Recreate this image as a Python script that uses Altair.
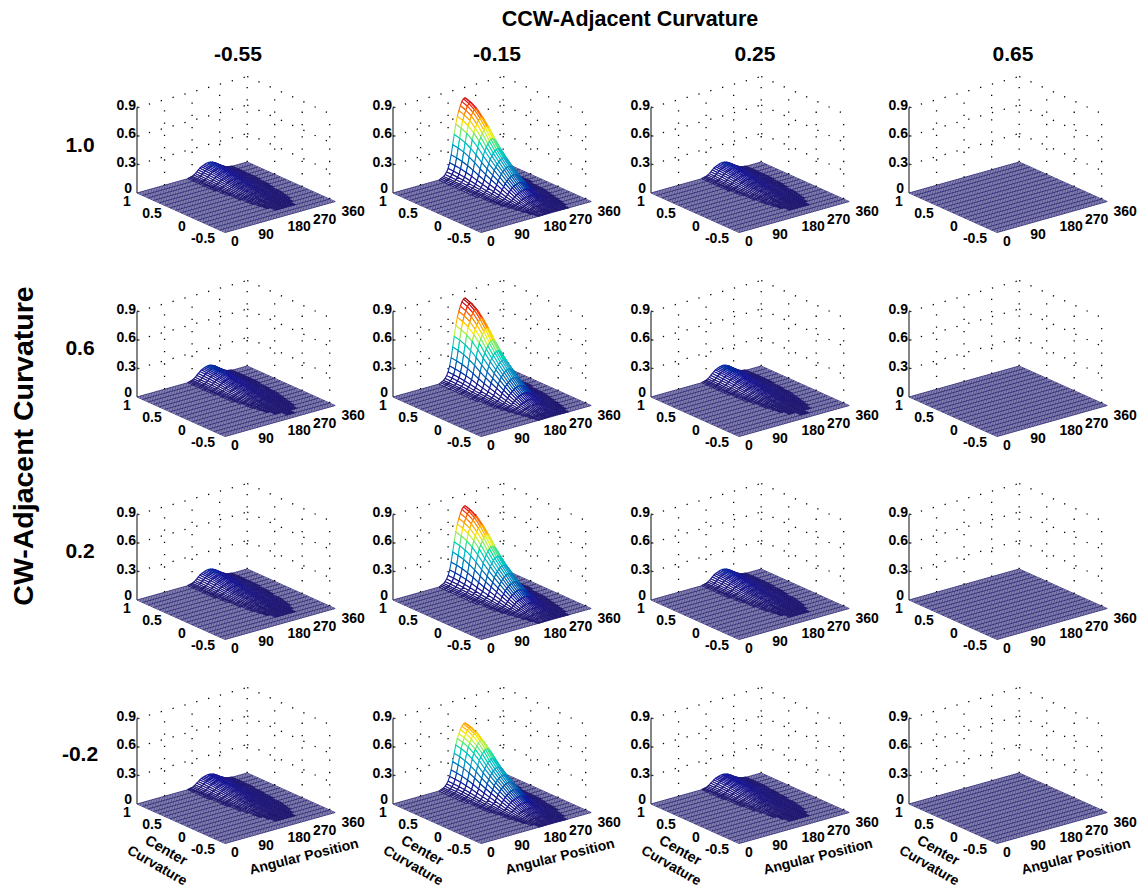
import altair as alt
import pandas as pd

alt.data_transformers.disable_max_rows()

# ---- values ----
ANGLES = [i * 5.0 for i in range(73)]
ANGLE_GAIN = [0]*31 + [.01, .02, .03, .05, .08, .12, .19, .29, .42, .55, .68, .78, .85, .91, .96, .99, 1.0,
                       .98, .94, .88, .80, .70, .59, .48, .38, .29, .21, .15, .10, .07, .05, .03, .02, .01, .01] + [0]*7
CENTER = [1.0, .9, .8, .7, .6, .5, .4, .3, .2, .1, 0, -.1, -.2, -.3, -.4, -.5, -.6]
CENTER_GAIN = [1.0, .97, .92, .84, .74, .62, .52, .43, .35, .27, .20, .14, .09, .06, .035, .02, .01]
CCW = ["-0.55", "-0.15", "0.25", "0.65"]
CW = ["1.0", "0.6", "0.2", "-0.2"]
PEAKS = [[.11, .79, .11, 0], [.12, .83, .12, 0], [.11, .78, .11, 0], [.10, .64, .10, 0]]
Z_TICKS = [0, .3, .6, .9]
AP_TICKS = [0, 90, 180, 270, 360]
CC_TICKS = [1, .5, 0, -.5]

# ---- layout / projection ----
ORIG_X = [137, 393, 651, 909]
ORIG_Y = [193, 397, 600, 804]
AP_VEC = (110.2, -31.0)
CC_VEC = (88.0, 39.5)
Z_SCALE = 85.5 / .9
AP_OFF = {0: (10, 9), 90: (13.5, 10), 180: (19, 9.5), 270: (17, 11), 360: (18, 10)}
CC_OFF = {1: (-10, 9), .5: (-12.5, 8.7), 0: (-10, 9.3), -.5: (-16.5, 9)}
Z_OFF = {0: (-5, -4), .3: (-1, -2), .6: (-1, -2), .9: (-1, -2)}


def proj(r, c, ap, cc, z=0.0):
    a, t = ap / 360, (1 - cc) / 1.6
    return (ORIG_X[c] + a * AP_VEC[0] + t * CC_VEC[0],
            ORIG_Y[r] + a * AP_VEC[1] + t * CC_VEC[1] - z * Z_SCALE)


ap_lines, cc_lines, dots, axis, cells, texts = [], [], [], [], [], []


def seg(store, p, q):
    store.append({"x": p[0], "y": p[1], "x2": q[0], "y2": q[1]})


cid = 0
for r in range(4):
    for c in range(4):
        pk = PEAKS[r][c]
        for ap in ANGLES:
            seg(ap_lines, proj(r, c, ap, 1), proj(r, c, ap, -.6))
        for cc in CENTER:
            seg(cc_lines, proj(r, c, 0, cc), proj(r, c, 360, cc))
        # dotted grid on the two back walls
        for z in Z_TICKS[1:]:
            seg(dots, proj(r, c, 0, 1, z), proj(r, c, 360, 1, z))
            seg(dots, proj(r, c, 360, 1, z), proj(r, c, 360, -.6, z))
        for ap in AP_TICKS[1:]:
            seg(dots, proj(r, c, ap, 1), proj(r, c, ap, 1, .9))
        for cc in CC_TICKS[1:]:
            seg(dots, proj(r, c, 360, cc), proj(r, c, 360, cc, .9))
        seg(axis, proj(r, c, 0, 1), proj(r, c, 0, 1, .9))
        for z in Z_TICKS[1:]:
            p = proj(r, c, 0, 1, z)
            seg(axis, p, (p[0] + 2.5, p[1]))
        # labels
        for z in Z_TICKS:
            p = proj(r, c, 0, 1, z)
            texts.append({"x": p[0] + Z_OFF[z][0], "y": p[1] + Z_OFF[z][1], "t": str(z), "a": "right"})
        for ap in AP_TICKS:
            p = proj(r, c, ap, -.6)
            texts.append({"x": p[0] + AP_OFF[ap][0], "y": p[1] + AP_OFF[ap][1], "t": str(ap), "a": "center"})
        for cc in CC_TICKS:
            p = proj(r, c, 0, cc)
            texts.append({"x": p[0] + CC_OFF[cc][0], "y": p[1] + CC_OFF[cc][1], "t": str(cc), "a": "center"})
        # raised part of the surface, back to front
        if pk == 0:
            continue
        for j in range(len(CENTER) - 1):
            for i in range(len(ANGLES) - 2, -1, -1):
                corners = [(i, j), (i + 1, j), (i + 1, j + 1), (i, j + 1), (i, j)]
                zs = [pk * ANGLE_GAIN[a] * CENTER_GAIN[b] for a, b in corners]
                if max(zs) < .004:
                    continue
                zc = sum(zs[:4]) / 4
                for k, ((a, b), z) in enumerate(zip(corners, zs)):
                    x, y = proj(r, c, ANGLES[a], CENTER[b], z)
                    cells.append({"x": x, "y": y, "cell": cid, "k": k, "zc": zc})
                cid += 1

X = alt.X("x:Q", scale=alt.Scale(domain=[8, 1138]), axis=None)
Y = alt.Y("y:Q", scale=alt.Scale(domain=[887, 8]), axis=None)
FONT = "Liberation Sans"


def rule_layer(rows, **kw):
    return alt.Chart(pd.DataFrame(rows)).mark_rule(**kw).encode(X, Y, x2="x2:Q", y2="y2:Q")


floor_a = rule_layer(ap_lines, color="#2a2474", strokeWidth=.8)
floor_c = rule_layer(cc_lines, color="#2a2474", strokeWidth=.8)
grid = rule_layer(dots, color="black", strokeWidth=1.3, strokeDash=[1.3, 11])
zaxis = rule_layer(axis, color="#333333", strokeWidth=1.2)
mesh = alt.Chart(pd.DataFrame(cells)).mark_line(fill="white", strokeWidth=1.1).encode(
    X, Y,
    order="k:Q",
    detail="cell:N",
    color=alt.Color("zc:Q", legend=None, scale=alt.Scale(
        domain=[0, .095, .2, .32, .53, .74, .85],
        range=["#20186e", "#15159a", "#1a68b0", "#28b0c8", "#f4f020", "#f01010", "#7f1010"])),
)


def label(rows, size, angle=0, align="center"):
    return alt.Chart(pd.DataFrame(rows)).mark_text(
        font=FONT, fontWeight="bold", fontSize=size, baseline="middle", align=align, angle=angle
    ).encode(X, Y, text="t:N")


tick_c = label([t for t in texts if t["a"] == "center"], 14)
tick_r = label([t for t in texts if t["a"] == "right"], 14, align="right")

col_x = [238, 497, 755, 1013]
row_y = [146, 349, 552, 755]
layers = [floor_a, floor_c, grid, zaxis, mesh, tick_c, tick_r,
          label([{"x": 630, "y": 20, "t": "CCW-Adjacent Curvature"}], 21.5),
          label([{"x": x, "y": 55, "t": t} for x, t in zip(col_x, CCW)], 21),
          label([{"x": 80, "y": y, "t": t} for y, t in zip(row_y, CW)], 21),
          label([{"x": 24, "y": 446, "t": "CW-Adjacent Curvature"}], 28.5, 270)]
bottom = ORIG_Y[3]
layers += [
    label([{"x": x + 29, "y": bottom + 47, "t": "Center"} for x in ORIG_X], 14.5, 30),
    label([{"x": x + 20, "y": bottom + 62, "t": "Curvature"} for x in ORIG_X], 14, 30),
    label([{"x": x + 167, "y": bottom + 53, "t": "Angular Position"} for x in ORIG_X], 14, 346),
]

chart = alt.layer(*layers).properties(width=1130, height=879, padding=0, autosize="none").configure_view(stroke=None)
chart.save("out.html", embed_options={"renderer": "svg", "actions": False})
